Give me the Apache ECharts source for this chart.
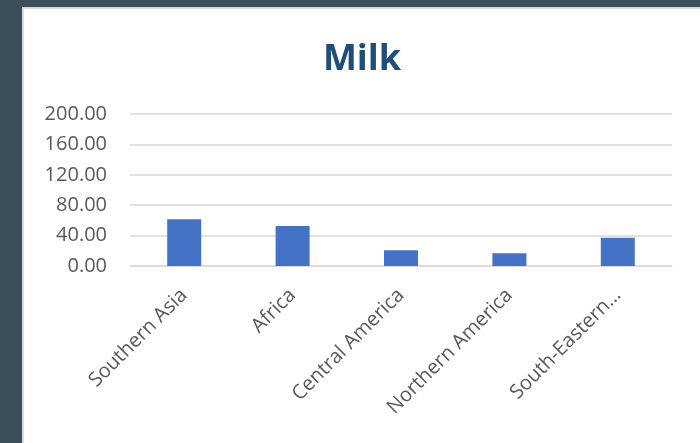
<!DOCTYPE html>
<html>
<head>
<meta charset="utf-8">
<script src="https://cdn.jsdelivr.net/npm/echarts@6/dist/echarts.min.js"></script>
<style>
  html, body { margin: 0; padding: 0; width: 700px; height: 443px; overflow: hidden; background: #3C4E5A; }
  #chart { position: absolute; left: 22px; top: 7px; width: 678px; height: 436px; background: #ffffff; box-sizing: border-box; border-left: 2px solid #d9d9d9; border-top: 2px solid #d9d9d9; }
</style>
</head>
<body>
<div id="chart"></div>
<script>
const title = "Milk";
const categories = ["Southern Asia", "Africa", "Central America", "Northern America", "South-Eastern Asia"];
const values = [61.4, 52.6, 20.6, 16.7, 37.2];
const yMin = 0, yMax = 200, yStep = 40;

const chart = echarts.init(document.getElementById('chart'), null, { renderer: 'canvas' });
chart.setOption({
  backgroundColor: '#ffffff',
  animation: false,
  title: {
    text: title,
    left: 'center',
    top: 28,
    textStyle: { fontFamily: 'Open Sans', fontWeight: 'bold', fontSize: 36, color: '#1F4E79' }
  },
  grid: { left: 106, right: 28, top: 105, bottom: 177, outerBoundsMode: 'none' },
  xAxis: {
    type: 'category',
    data: categories,
    axisLine: { show: true, lineStyle: { color: '#d9d9d9', width: 1.5 } },
    axisTick: { show: false },
    axisLabel: {
      rotate: 45,
      interval: 0,
      margin: 26,
      overflow: 'none',
      hideOverlap: false,
      fontFamily: 'Open Sans',
      fontSize: 20,
      color: '#595959',
      formatter: v => v.length > 16 ? v.slice(0, 13) + '…' : v
    }
  },
  yAxis: {
    type: 'value',
    min: yMin, max: yMax, interval: yStep,
    axisLine: { show: false },
    axisTick: { show: false },
    splitLine: { lineStyle: { color: '#d9d9d9', width: 1.5 } },
    axisLabel: {
      margin: 23,
      fontFamily: 'Open Sans',
      fontSize: 20,
      color: '#595959',
      formatter: v => v.toFixed(2)
    }
  },
  series: [{
    type: 'bar',
    data: values,
    barWidth: 34,
    itemStyle: { color: '#4472C4' }
  }]
});
</script>
</body>
</html>
